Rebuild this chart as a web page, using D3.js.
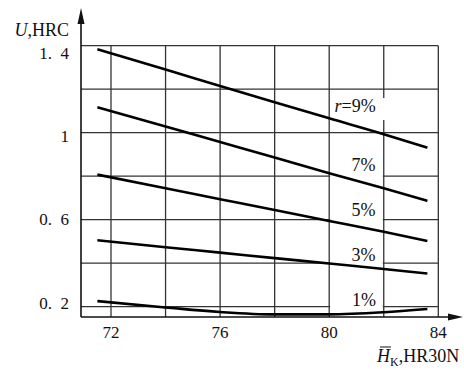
<!DOCTYPE html>
<html><head><meta charset="utf-8">
<script src="https://cdn.jsdelivr.net/npm/d3@7"></script>
<style>
html,body{margin:0;padding:0;background:#fff;}
svg{display:block;}
text{font-family:"Liberation Serif","DejaVu Serif",serif;fill:#111;}
</style></head>
<body>
<svg id="chart" width="464" height="376"></svg>
<script>
// ---- data ----
const hardness = [71.5, 74, 76, 78, 80, 82, 83.6];           // H_K, HR30N
const r9 = [1.384, 1.290, 1.215, 1.140, 1.066, 0.993, 0.931];
const r7 = [1.117, 1.028, 0.957, 0.886, 0.813, 0.744, 0.686];
const r5 = [0.807, 0.744, 0.694, 0.644, 0.594, 0.544, 0.502];
const r3 = [0.505, 0.473, 0.448, 0.423, 0.398, 0.373, 0.352];
const r1 = [0.225, 0.196, 0.175, 0.164, 0.164, 0.174, 0.189];
const seriesNames = ["9%", "7%", "5%", "3%", "1%"];
const labelX = [80.95, 81.26, 81.26, 81.26, 81.28];
const labelY = [1.123, 0.854, 0.646, 0.440, 0.233];
const xTicks = [72, 76, 80, 84];
const xTickLabels = ["72", "76", "80", "84"];
const yTicks = [0.2, 0.6, 1.0, 1.4];
const yTickLabels = ["0.\u20022", "0.\u20026", "1", "1.\u20024"];
const xGrid = [72, 74, 76, 78, 80, 82, 84];
const yGrid = [0.2, 0.4, 0.6, 0.8, 1.0, 1.2, 1.4];

// ---- chart ----
const svg = d3.select("#chart");
const x = d3.scaleLinear().domain([70.9, 84]).range([81, 438.3]);
const y = d3.scaleLinear().domain([0.152, 1.4]).range([317, 45.7]);
// tick-label placement as printed in the source figure (slightly offset from grid)
const yLab = d3.scaleLinear().domain([0.2, 1.4]).range([y(0.2) - 3.5, y(1.4) + 7.3]);
const gridColor = "#333";

// grid
const g = svg.append("g");
g.selectAll("line.h").data(yGrid).join("line")
  .attr("x1", x(70.9)).attr("x2", x(84))
  .attr("y1", d => y(d)).attr("y2", d => y(d))
  .attr("stroke", gridColor).attr("stroke-width", 1.3);
g.selectAll("line.v").data(xGrid).join("line")
  .attr("x1", d => x(d)).attr("x2", d => x(d))
  .attr("y1", y(0.152)).attr("y2", y(1.4))
  .attr("stroke", gridColor).attr("stroke-width", 1.3);

// label background group (under curves), label text group (on top)
const boxG = svg.append("g");

// axes
const axis = svg.append("g");
axis.append("line").attr("x1", x(70.9)).attr("x2", 452).attr("y1", y(0.152)).attr("y2", y(0.152))
  .attr("stroke", "#111").attr("stroke-width", 1.6);
axis.append("line").attr("x1", x(70.9)).attr("x2", x(70.9)).attr("y1", y(0.152)).attr("y2", 20)
  .attr("stroke", "#111").attr("stroke-width", 1.6);
axis.append("path").attr("d", `M${x(70.9)},8 L${x(70.9)-3.5},24 L${x(70.9)+3.5},24 Z`).attr("fill", "#111");
axis.append("path").attr("d", `M463,${y(0.152)} L448,${y(0.152)-3.5} L448,${y(0.152)+3.5} Z`).attr("fill", "#111");

// curves
const allSeries = [r9, r7, r5, r3, r1];
const line = d3.line().x((d, i) => x(hardness[i])).y(d => y(d)).curve(d3.curveMonotoneX);
svg.append("g").selectAll("path").data(allSeries).join("path")
  .attr("d", d => line(d)).attr("fill", "none").attr("stroke", "#000").attr("stroke-width", 2.6);

// series labels
const lblG = svg.append("g");
const labels = seriesNames.map((n, i) => ({name: n, x: labelX[i], y: labelY[i], i}));
const lblText = lblG.selectAll("text").data(labels).join("text")
  .attr("x", d => x(d.x)).attr("y", d => y(d.y)).attr("dy", "0.34em")
  .attr("text-anchor", "middle").attr("font-size", 18);
lblText.each(function(d){
  const t = d3.select(this);
  if (d.i === 0) { t.append("tspan").attr("font-style", "italic").text("r"); t.append("tspan").text("=" + d.name); }
  else t.text(d.name);
});
lblText.each(function(d){
  const b = this.getBBox();
  let x0, x1;
  if (d.i === 0) { x0 = b.x - 2; x1 = b.x + b.width + 11; }
  else { x0 = x(80) + 1; x1 = x(82) - 1; }
  boxG.append("rect").attr("x", x0).attr("width", x1 - x0)
    .attr("y", b.y + 2).attr("height", b.height + 2).attr("fill", "#fff");
});

// tick labels
svg.append("g").selectAll("text").data(xTicks).join("text")
  .attr("x", d => x(d)).attr("y", 338).attr("text-anchor", "middle").attr("font-size", 17)
  .text((d, i) => xTickLabels[i]);
svg.append("g").selectAll("text").data(yTicks).join("text")
  .attr("x", 69).attr("y", d => yLab(d)).attr("dy", "0.34em").attr("text-anchor", "end").attr("font-size", 17)
  .style("white-space", "pre")
  .text((d, i) => yTickLabels[i]);

// axis titles
const yt = svg.append("text").attr("x", 69).attr("y", 36).attr("text-anchor", "end").attr("font-size", 18);
yt.append("tspan").attr("font-style", "italic").text("U");
yt.append("tspan").text(",HRC");

const xt = svg.append("text").attr("x", 377).attr("y", 362).attr("font-size", 18);
xt.append("tspan").attr("font-style", "italic").text("H");
xt.append("tspan").attr("font-size", 12).attr("dy", 4).text("K");
xt.append("tspan").attr("dy", -4).text(",HR30N");
const hb = xt.node().getExtentOfChar(0);
svg.append("line").attr("x1", hb.x + 3).attr("x2", hb.x + hb.width + 1)
  .attr("y1", 347).attr("y2", 347).attr("stroke", "#111").attr("stroke-width", 1);
</script>
</body></html>
